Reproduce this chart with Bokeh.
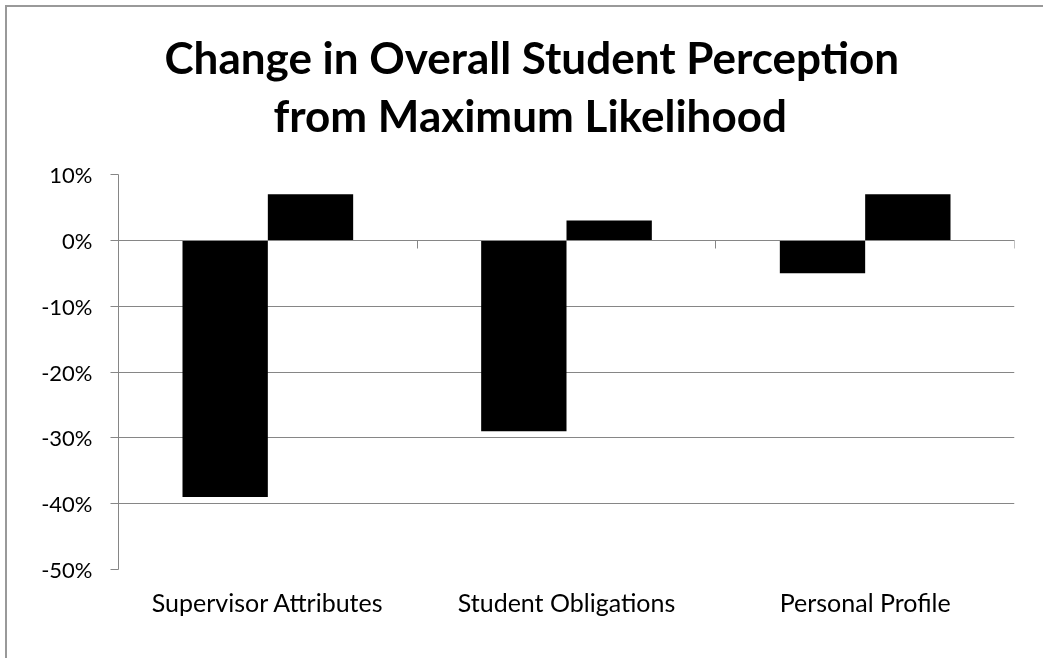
from bokeh.plotting import figure
from bokeh.models import (Range1d, LinearAxis, FixedTicker, Title,
                          NumeralTickFormatter, ColumnDataSource)
from bokeh.transform import dodge
from bokeh.embed import file_html
from bokeh.resources import INLINE

# Data
categories = ["Supervisor Attributes", "Student Obligations", "Personal Profile"]
series_a = [-0.39, -0.29, -0.05]
series_b = [0.07, 0.03, 0.07]
y_ticks = [-0.5, -0.4, -0.3, -0.2, -0.1, 0.0, 0.1]
title_lines = ["Change in Overall Student Perception", "from Maximum Likelihood"]

FONT = "Lato"
GREY = "#868686"

# each category occupies one unit along x; its centre sits at i + 0.5
centres = [i + 0.5 for i in range(len(categories))]
source = ColumnDataSource(data=dict(pos=centres, a=series_a, b=series_b))

p = figure(
    x_range=Range1d(0, len(categories)),
    y_range=Range1d(-0.5, 0.1),
    width=1060, height=670,
    min_border_left=111, min_border_right=53,
    min_border_top=167, min_border_bottom=108,
    output_backend="svg", toolbar_location=None,
    background_fill_color="white", border_fill_color="white",
    styles={"position": "fixed", "left": "7px", "top": "7px",
            "box-shadow": "-2px -2px 0 0 #999999"},
)
p.outline_line_color = None

bar_w = 1 / 3.5
p.vbar(x=dodge("pos", -bar_w / 2), top="a", bottom=0, width=bar_w,
       source=source, fill_color="black", line_color=None)
p.vbar(x=dodge("pos", bar_w / 2), top="b", bottom=0, width=bar_w,
       source=source, fill_color="black", line_color=None)

# Value axis
yax = p.yaxis[0]
yax.ticker = FixedTicker(ticks=y_ticks)
yax.formatter = NumeralTickFormatter(format="0%")
yax.axis_line_color = GREY
yax.major_tick_line_color = GREY
yax.major_tick_out = 8
yax.major_tick_in = 0
yax.minor_tick_line_color = None
yax.major_label_standoff = 18
yax.major_label_text_font = FONT
yax.major_label_text_font_size = "22px"
yax.major_label_text_color = "black"

p.ygrid.ticker = FixedTicker(ticks=y_ticks)
p.ygrid.grid_line_color = GREY
p.xgrid.grid_line_color = None

# Category labels along the bottom
xax = p.xaxis[0]
xax.ticker = FixedTicker(ticks=centres)
xax.major_label_overrides = {c: name for c, name in zip(centres, categories)}
xax.axis_line_color = None
xax.major_tick_line_color = None
xax.minor_tick_line_color = None
xax.major_label_standoff = 11
xax.major_label_text_font = FONT
xax.major_label_text_font_size = "25px"
xax.major_label_text_color = "black"

# Horizontal axis crossing at zero with tick marks between categories
zero_axis = LinearAxis(
    fixed_location=0,
    ticker=FixedTicker(ticks=list(range(len(categories) + 1))),
    axis_line_color=GREY, major_tick_line_color=GREY,
    major_tick_in=8, major_tick_out=0, minor_tick_line_color=None,
    major_label_text_color=None,
)
p.add_layout(zero_axis, "above")

# Two-line chart title; the line nearest the plot is added first.
# The lower line's standoff lifts both lines clear of the plot; the upper
# line's negative standoff pulls it back down to a normal line spacing.
for text, off, sd in zip(reversed(title_lines), [155, 46], [68, -61]):
    p.add_layout(Title(text=text, align="left", offset=off, standoff=sd,
                       text_font=FONT, text_font_style="bold",
                       text_font_size="44px", text_color="black"), "above")

open("out.html", "w").write(file_html(p, INLINE))
